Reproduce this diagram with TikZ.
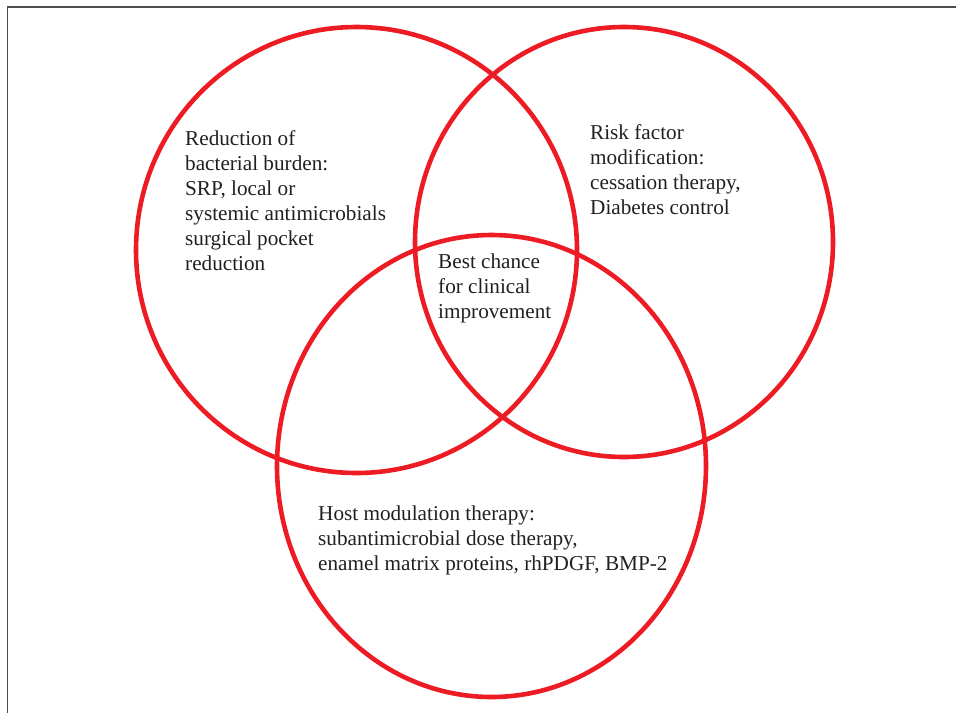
\documentclass[tikz,border=0pt]{standalone}
\usepackage{fontspec}
\setmainfont{Liberation Serif}
\usepackage{xcolor}
\usepackage{tikz}
\usetikzlibrary{shapes.geometric}
\definecolor{vennred}{HTML}{ED1C24}
\definecolor{txtgray}{HTML}{231F20}
\definecolor{framegray}{HTML}{4D4D4D}

\begin{document}
\begin{tikzpicture}[x=1pt,y=-1pt,
  ring/.style={ellipse,draw=vennred,line width=4.6pt,inner sep=0pt},
  lbl/.style={anchor=north west,align=left,inner sep=0pt,text=txtgray,
    font={\fontsize{21.2}{25}\selectfont}}]
\useasboundingbox (0,0) rectangle (956,713);
\draw[framegray,line width=1.3pt] (7.5,713) -- (7.5,7) -- (956,7);

  \node[ring,minimum width=441pt,minimum height=446pt] (L) at (356.5,250) {};
  \node[ring,minimum width=418pt,minimum height=430pt] (R) at (624,242)   {};
  \node[ring,minimum width=429pt,minimum height=462pt] (H) at (491.5,466) {};

  \node[lbl] (bact) at (185,130) {Reduction of\\bacterial burden:\\SRP, local or\\systemic antimicrobials\\surgical pocket\\reduction};
  \node[lbl] (risk) at (590,124) {Risk factor\\modification:\\cessation therapy,\\Diabetes control};
  \node[lbl] (best) at (438,254) {Best chance\\for clinical\\improvement};
  \node[lbl] (host) at (318,506) {Host modulation therapy:\\subantimicrobial dose therapy,\\enamel matrix proteins, rhPDGF, BMP-2};
\end{tikzpicture}
\end{document}
